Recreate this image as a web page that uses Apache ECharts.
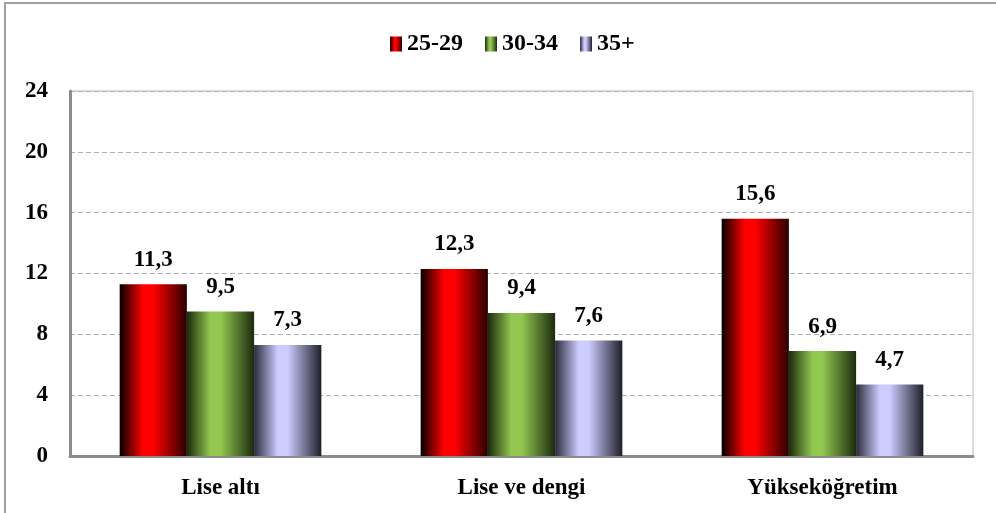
<!DOCTYPE html>
<html><head><meta charset="utf-8">
<script src="https://cdn.jsdelivr.net/npm/echarts@6/dist/echarts.min.js"></script>
<style>html,body{margin:0;padding:0;background:#fff}#c{width:996px;height:513px}</style>
</head><body><div id="c"></div>
<script>
const categories = ['Lise altı', 'Lise ve dengi', 'Yükseköğretim'];
const seriesNames = ['25-29', '30-34', '35+'];
const values2529 = [11.3, 12.3, 15.6];
const values3034 = [9.5, 9.4, 6.9];
const values35 = [7.3, 7.6, 4.7];
const yTicks = [0, 4, 8, 12, 16, 20, 24];

const FONT = '"Liberation Serif", "Times New Roman", serif';
function grad(edgeL, mid, edgeR) {
  return new echarts.graphic.LinearGradient(0, 0, 1, 0, [
    {offset: 0, color: edgeL},
    {offset: 0.35, color: mid},
    {offset: 0.5, color: mid},
    {offset: 1, color: edgeR}
  ]);
}
const colors = [
  grad('#050000', '#ff0000', '#2a0000'),
  grad('#1a2a0c', '#92c850', '#1c2a0e'),
  grad('#2a2a3a', '#ccccff', '#1e1e2a')
];
const data = [values2529, values3034, values35];
const chart = echarts.init(document.getElementById('c'));
chart.setOption({
  animation: false,
  backgroundColor: '#fff',
  graphic: [{
    type: 'rect', shape: {x: 5, y: 3, width: 1000, height: 520},
    style: {fill: 'none', stroke: '#a0a0a0', lineWidth: 2}
  }],
  legend: {
    top: 27, left: 385,
    icon: 'rect',
    itemWidth: 12, itemHeight: 15, itemGap: 22,
    textStyle: {fontFamily: FONT, fontWeight: 'bold', fontSize: 24, color: '#000'},
    data: seriesNames
  },
  grid: {left: 70, right: 23, top: 91, bottom: 57, show: true, borderColor: '#b8b8b8', borderWidth: 1},
  xAxis: {
    type: 'category', data: categories,
    axisLine: {lineStyle: {color: '#8c8c8c', width: 3}},
    axisTick: {show: false},
    axisLabel: {fontFamily: FONT, fontWeight: 'bold', fontSize: 23, color: '#000', margin: 21}
  },
  yAxis: {
    type: 'value', min: yTicks[0], max: yTicks[yTicks.length - 1], interval: 4,
    axisLine: {show: true, lineStyle: {color: '#8c8c8c', width: 3}},
    axisTick: {show: false},
    splitLine: {lineStyle: {color: '#b0b0b0', type: [5, 3]}},
    axisLabel: {fontFamily: FONT, fontWeight: 'bold', fontSize: 23, color: '#000', margin: 22}
  },
  series: seriesNames.map((n, i) => ({
    name: n, type: 'bar', data: data[i],
    barGap: '0%', barCategoryGap: '33%',
    itemStyle: {color: colors[i]},
    label: {
      show: true, position: 'top', distance: 13,
      fontFamily: FONT, fontWeight: 'bold', fontSize: 23, color: '#000',
      formatter: p => String(p.value).replace('.', ',')
    }
  }))
});
</script></body></html>
